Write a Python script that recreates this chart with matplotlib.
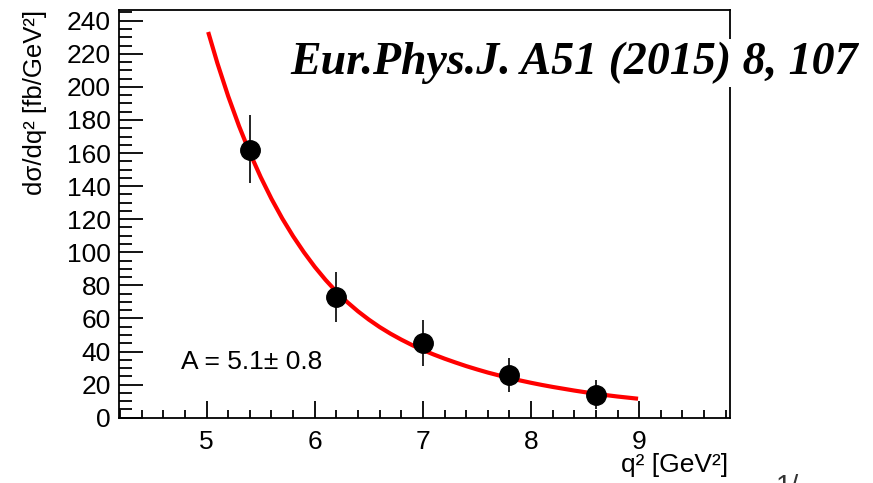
import matplotlib
matplotlib.use("Agg")
from matplotlib import pyplot as plt
from matplotlib.ticker import MultipleLocator

plt.rcParams['font.family'] = ['Liberation Sans', 'DejaVu Sans']

# measured points
q2 = [5.4, 6.2, 7.0, 7.8, 8.6]
xsec = [162, 73, 45, 26, 14]
err_lo = [20, 15, 14, 10.5, 9]
err_hi = [21, 15, 14, 10, 9]

# fit curve
fit_q2 = [5.02, 5.1, 5.2, 5.3, 5.4, 5.5, 5.6, 5.7, 5.8, 5.9, 6.0, 6.1,
          6.2, 6.3, 6.4, 6.5, 6.6, 6.7, 6.8, 6.9, 7.0, 7.1, 7.2, 7.3, 7.4,
          7.5, 7.6, 7.7, 7.8, 7.9, 8.0, 8.1, 8.2, 8.3, 8.4, 8.5, 8.6, 8.7,
          8.8, 8.9, 8.97]
fit_val = [232, 214.3, 194.3, 176.3, 160.1, 145.5, 132.3, 120.4, 109.7,
           100.0, 91.2, 83.3, 76.2, 69.9, 64.3, 59.3, 54.8, 50.8, 47.2,
           43.9, 40.9, 38.2, 35.7, 33.4, 31.2, 29.2, 27.3, 25.6, 24.0, 22.5,
           21.1, 19.8, 18.6, 17.5, 16.4, 15.4, 14.5, 13.6, 12.8, 12.1, 11.6]

xticks = [5, 6, 7, 8, 9]
yticks = list(range(0, 241, 20))

fig = plt.figure(figsize=(8.73, 4.83), dpi=100)
ax = fig.add_axes([0.1363, 0.1352, 0.7, 0.8441])

ax.plot(fit_q2, fit_val, color='red', lw=3, zorder=2)
ax.errorbar(q2, xsec, yerr=[err_lo, err_hi], fmt='o', color='black',
            ms=14, elinewidth=1.2, capsize=0, zorder=3)

ax.set_xlim(4.19, 9.84)
ax.set_ylim(0, 246.5)
ax.set_xticks(xticks)
ax.set_yticks(yticks)
ax.xaxis.set_minor_locator(MultipleLocator(0.2))
ax.yaxis.set_minor_locator(MultipleLocator(5))
ax.tick_params(which='both', direction='in', top=False, right=False,
               labelsize=19, width=1.3)
ax.tick_params(axis='y', which='major', length=17, pad=6)
ax.tick_params(axis='y', which='minor', length=9)
ax.tick_params(axis='x', which='major', length=12, pad=9)
ax.tick_params(axis='x', which='minor', length=6)
for s in ax.spines.values():
    s.set_linewidth(1.3)

fig.text(35 / 873, 1 - 10 / 483, 'dσ/dq² [fb/GeV²]', rotation=90,
         ha='center', va='top', fontsize=18.5)
fig.text(728 / 873, 1 - 465 / 483, 'q² [GeV²]', ha='right', va='center',
         fontsize=19)

ax.text(4.76, 1 - (361.7 - 10) / 407.7, 'A = 5.1± 0.8', fontsize=19,
        va='center', transform=ax.get_xaxis_transform())

fig.text(290 / 873, 1 - 63 / 483, 'Eur.Phys.J. A51 (2015) 8, 107',
         family='Liberation Serif', style='italic', weight='bold',
         fontsize=33, ha='left', va='center',
         bbox=dict(facecolor='white', edgecolor='none', pad=2))

fig.text(776 / 873, 1 - 474 / 483, '1/', fontsize=20, color='#333333',
         ha='left', va='top')

fig.savefig('out.png', dpi=100)
